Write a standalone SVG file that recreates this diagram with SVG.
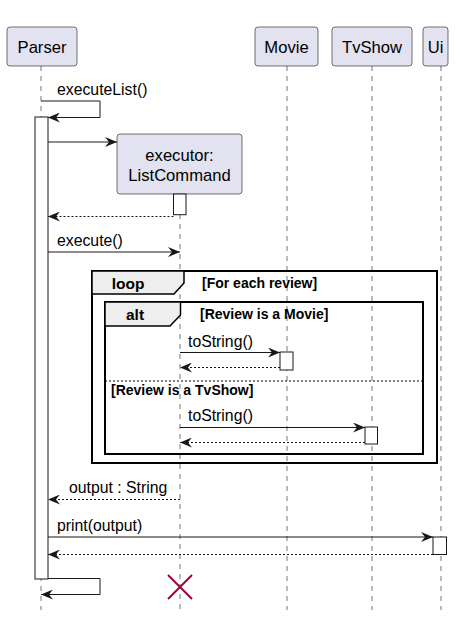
<svg xmlns="http://www.w3.org/2000/svg" width="462" height="618" viewBox="0 0 462 618">
<style>
.bg{fill:#FFFFFF}
.part{fill:#E2E2F0;stroke:#181818;stroke-width:0.6}
.ptxt{font-family:"Liberation Sans",Arial,sans-serif;font-size:16.6px;fill:#000000;text-anchor:middle}
.life{stroke:#181818;stroke-width:0.6;stroke-dasharray:5,5}
.act{fill:#FFFFFF;stroke:#181818;stroke-width:1}
.msg{fill:none;stroke:#181818;stroke-width:1}
.ret{fill:none;stroke:#181818;stroke-width:1;stroke-dasharray:2,2}
.mtxt{font-family:"Liberation Sans",Arial,sans-serif;font-size:15.8px;fill:#000000}
.frame{fill:none;stroke:#000000;stroke-width:2}
.tab{fill:#EEEEEE;stroke:#000000;stroke-width:1.5}
.ftxt{font-family:"Liberation Sans",Arial,sans-serif;font-size:15.5px;font-weight:bold;fill:#000000;text-anchor:middle}
.ctxt{font-family:"Liberation Sans",Arial,sans-serif;font-size:14px;font-weight:bold;fill:#000000}
.sep{stroke:#000000;stroke-width:1;stroke-dasharray:2,2}
.dest{stroke:#A80036;stroke-width:2}
</style>
<defs>
<marker id="ah" viewBox="0 0 12 10" refX="12" refY="5" markerWidth="12" markerHeight="10" markerUnits="userSpaceOnUse" orient="auto">
<path d="M0,0 L12,5 L0,10 L4,5 Z" fill="#181818"/>
</marker>
</defs>
<rect class="bg" x="0" y="0" width="462" height="618"/>

<g id="lifelines">
<line class="life" x1="41" y1="66" x2="41" y2="610"/>
<line class="life" x1="180" y1="194" x2="180" y2="610"/>
<line class="life" x1="287" y1="66" x2="287" y2="610"/>
<line class="life" x1="372" y1="66" x2="372" y2="610"/>
<line class="life" x1="441" y1="66" x2="441" y2="610"/>
</g>

<g id="frames">
<rect class="frame" x="92" y="271" width="345" height="192"/>
<polygon class="tab" points="92,271 184,271 184,283 174,294 92,294"/>
<text class="ftxt" x="128" y="289">loop</text>
<text class="ctxt" x="202" y="288">[For each review]</text>
<rect class="frame" x="105" y="302" width="318" height="152"/>
<polygon class="tab" points="105,302 180.5,302 180.5,315 170,326 105,326"/>
<text class="ftxt" x="135" y="320">alt</text>
<text class="ctxt" x="200" y="319">[Review is a Movie]</text>
<line class="sep" x1="105" y1="381" x2="423" y2="381"/>
<text class="ctxt" x="111" y="395">[Review is a TvShow]</text>
</g>

<g id="Parser">
<rect class="part" x="7" y="27" width="70" height="39" rx="3"/>
<text class="ptxt" x="42" y="53">Parser</text>
<rect class="act" x="35" y="117" width="13" height="462"/>
</g>
<g id="Movie">
<rect class="part" x="255" y="27" width="63" height="39" rx="3"/>
<text class="ptxt" x="286.5" y="53">Movie</text>
<rect class="act" x="280" y="352" width="13" height="18"/>
</g>
<g id="TvShow">
<rect class="part" x="332" y="27" width="80" height="39" rx="3"/>
<text class="ptxt" x="372" y="53">TvShow</text>
<rect class="act" x="365" y="427" width="12.5" height="17"/>
</g>
<g id="Ui">
<rect class="part" x="423" y="27" width="25" height="39" rx="3"/>
<text class="ptxt" x="435.5" y="53">Ui</text>
<rect class="act" x="433" y="537" width="13.5" height="17.5"/>
</g>
<g id="executor">
<rect class="part" x="117" y="134" width="125" height="60" rx="3"/>
<text class="ptxt" x="179.5" y="161">executor:</text>
<text class="ptxt" x="179.5" y="181">ListCommand</text>
<rect class="act" x="173.5" y="194" width="12.5" height="20.7"/>
</g>

<g id="connectors">
<polyline class="msg" points="41,101 100,101 100,117.5 48,117.5" marker-end="url(#ah)"/>
<text class="mtxt" x="57" y="95">executeList()</text>
<line class="msg" x1="48" y1="142" x2="117" y2="142" marker-end="url(#ah)"/>
<line class="ret" x1="173.5" y1="216.5" x2="48" y2="216.5" marker-end="url(#ah)"/>
<line class="msg" x1="48" y1="252" x2="180" y2="252" marker-end="url(#ah)"/>
<text class="mtxt" x="57" y="246">execute()</text>
<line class="msg" x1="180" y1="352.5" x2="280" y2="352.5" marker-end="url(#ah)"/>
<text class="mtxt" x="188" y="347">toString()</text>
<line class="ret" x1="280" y1="367.5" x2="180" y2="367.5" marker-end="url(#ah)"/>
<line class="msg" x1="180" y1="427.5" x2="365" y2="427.5" marker-end="url(#ah)"/>
<text class="mtxt" x="188" y="421">toString()</text>
<line class="ret" x1="365" y1="442.5" x2="180" y2="442.5" marker-end="url(#ah)"/>
<line class="ret" x1="180" y1="499.5" x2="48" y2="499.5" marker-end="url(#ah)"/>
<text class="mtxt" x="69" y="493">output : String</text>
<line class="msg" x1="48" y1="537" x2="433" y2="537" marker-end="url(#ah)"/>
<text class="mtxt" x="57" y="531">print(output)</text>
<line class="ret" x1="433" y1="554.5" x2="48" y2="554.5" marker-end="url(#ah)"/>
<polyline class="msg" points="48,578.5 100,578.5 100,594.5 41,594.5" marker-end="url(#ah)"/>
</g>

<g id="destroy">
<line class="dest" x1="168" y1="575" x2="192" y2="599"/>
<line class="dest" x1="192" y1="575" x2="168" y2="599"/>
</g>
</svg>
